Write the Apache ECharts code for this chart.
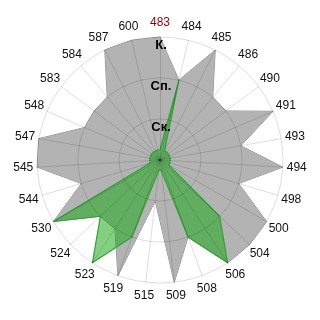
<!DOCTYPE html>
<html><head><meta charset="utf-8">
<script src="https://cdn.jsdelivr.net/npm/echarts@6/dist/echarts.min.js"></script>
<style>html,body{margin:0;padding:0;background:#fff}#c{width:320px;height:320px}</style>
</head><body><div id="c"></div>
<script>
const categories = ['483','484','485','486','490','491','493','494','498','500','504','506','508','509','515','519','523','524','530','544','545','547','548','583','584','587','600'];
const highlighted = '483';
const radialLabels = ['', 'Ск.', 'Сп.', 'К.'];
const grayValues  = [3,2,3,2,2,3,2,3,2,3,3,3,2,3,1,3,2,2,3,2,3,3,2,2,2,3,3];
const greenValues = [0.25,2,0.25,0.25,0.25,0.25,0.25,0.25,0.25,0.25,2,3,2,0.25,0.25,2,3,2,3,0.25,0.25,0.25,0.25,0.25,0.25,0.25,0.25];

// radar indicators run counter-clockwise; reorder so they run clockwise from the top
function cw(arr){ return [arr[0]].concat(arr.slice(1).reverse()); }

const indicators = cw(categories).map(function(name, i){
  const ind = {name: name, min: 0, max: 3, color: name === highlighted ? '#990000' : '#111'};
  if (i === 0) {
    ind.axisLabel = {show: true, margin: 0, align: 'center', verticalAlign: 'top',
      padding: [2, 0, 0, 2],
      fontWeight: 'bold', fontSize: 13, color: '#000', fontFamily: 'Liberation Sans',
      formatter: function(v){ return radialLabels[Math.round(v)] || ''; }};
  }
  return ind;
});

const chart = echarts.init(document.getElementById('c'), null, {renderer: 'canvas'});
chart.setOption({
  animation: false,
  backgroundColor: '#fff',
  radar: {
    center: ['50%', '50%'], radius: 123, startAngle: 90, splitNumber: 3, shape: 'circle', z: 5,
    nameGap: 14,
    axisName: {color: '#111', fontSize: 12, fontFamily: 'Liberation Sans', align: 'center', verticalAlign: 'middle'},
    axisLine: {lineStyle: {color: 'rgba(0,0,0,0.13)', width: 1}},
    splitLine: {lineStyle: {color: 'rgba(0,0,0,0.13)', width: 1}},
    splitArea: {show: false},
    axisTick: {show: false},
    axisLabel: {show: false},
    indicator: indicators
  },
  series: [{
    type: 'radar', silent: true, symbol: 'none',
    data: [
      {value: cw(grayValues), lineStyle: {color: '#888', width: 1}, areaStyle: {color: '#b3b3b3', opacity: 1}},
      {value: cw(greenValues), lineStyle: {color: '#3aa23a', width: 1.2}, areaStyle: {color: 'rgb(30,170,30)', opacity: 0.55}}
    ]
  }]
});
</script></body></html>
